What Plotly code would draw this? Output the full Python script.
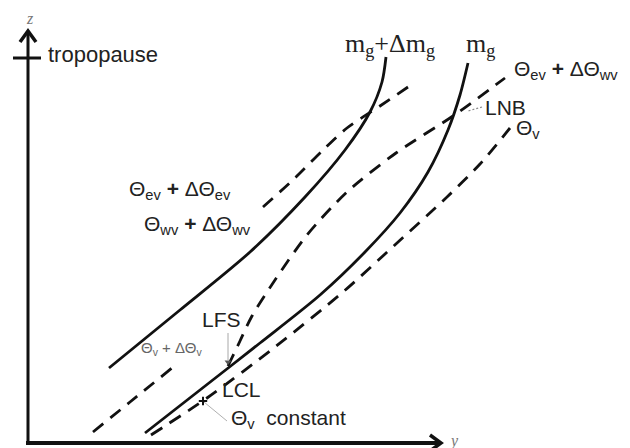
import plotly.graph_objects as go

# ---- schematic curves (pixel-space coordinates of the sketch, y downward) ----
# solid: m_g + Δm_g
mg_dm_x = [109, 180, 250, 305, 345, 370, 382, 386]
mg_dm_y = [368, 310, 252, 197, 150, 112, 82, 57]
# solid: m_g
mg_x = [145, 200, 260, 320, 365, 400, 428, 448, 460, 468]
mg_y = [433, 390, 343, 295, 252, 213, 172, 130, 95, 63]
# dashed: Θ_ev + ΔΘ_ev (upper left)
thev_x = [263, 295, 323, 347, 380, 408]
thev_y = [207, 178, 150, 128, 106, 87]
# dashed: Θ_ev + ΔΘ_wv (from LCL through LFS to LNB)
thwv_x = [228, 240, 252, 275, 307, 347, 396, 453, 505]
thwv_y = [366, 341, 316, 280, 235, 192, 153, 116, 78]
# dashed: Θ_v
thv_x = [151, 207, 275, 343, 397, 447, 480, 510]
thv_y = [435, 398, 347, 292, 243, 197, 164, 128]
# dashed: Θ_v + ΔΘ_v (lower left)
thvd_x = [93, 130, 172]
thvd_y = [432, 402, 368]

# coordinate axes and their arrow heads
zaxis_x = [28, 28]
zaxis_y = [445, 31]
zhead_x = [20, 28, 36]
zhead_y = [42, 31, 42]
yaxis_x = [26, 441]
yaxis_y = [443, 443]
yhead_x = [430, 441, 430]
yhead_y = [435, 443, 451]
trop_x = [13, 41]
trop_y = [58, 58]

# leader lines
lead_lfs_x = [228, 228]
lead_lfs_y = [333, 360]
lead_const_x = [227, 204]
lead_const_y = [421, 402]
lead_lnb_x = [482, 468]
lead_lnb_y = [107, 111]

BLACK = "#111111"
GREY = "#8a8a8a"

fig = go.Figure()

def curve(x, y, dash=None, width=2.8, color=BLACK, shape="spline"):
    fig.add_trace(go.Scatter(
        x=x, y=y, mode="lines",
        line=dict(color=color, width=width, shape=shape,
                  smoothing=0.8, dash=dash),
        hoverinfo="skip", showlegend=False))

curve(mg_dm_x, mg_dm_y)
curve(mg_x, mg_y)
curve(thev_x, thev_y, dash="13px,9px")
curve(thwv_x, thwv_y, dash="13px,9px")
curve(thv_x, thv_y, dash="13px,9px")
curve(thvd_x, thvd_y, dash="13px,9px")

curve(zaxis_x, zaxis_y, width=3, shape="linear")
curve(zhead_x, zhead_y, width=3.5, shape="linear")
curve(yaxis_x, yaxis_y, width=3.8, shape="linear")
curve(yhead_x, yhead_y, width=3.5, shape="linear")
curve(trop_x, trop_y, width=3, shape="linear")

curve(lead_lfs_x, lead_lfs_y, width=1, color="#a8a8a8", shape="linear")
curve(lead_const_x, lead_const_y, width=1, color="#b0b0b0", shape="linear")
curve(lead_lnb_x, lead_lnb_y, width=1.2, color=GREY, dash="2px,2px", shape="linear")

# arrow tip of LFS leader and small tick on Θ_v dashed line
fig.add_trace(go.Scatter(x=[228], y=[362], mode="markers",
                         marker=dict(symbol="triangle-down", size=6, color="#555555"),
                         hoverinfo="skip", showlegend=False))
fig.add_trace(go.Scatter(x=[203], y=[401], mode="markers",
                         marker=dict(symbol="cross-thin", size=6,
                                     line=dict(color=BLACK, width=2)),
                         hoverinfo="skip", showlegend=False))

annotations = []
SANS = "Liberation Sans, Arial, sans-serif"
SERIF = "Liberation Serif, Times New Roman, serif"

def label(x, y, text, size=20, family=SANS, color="#222222", anchor="left"):
    annotations.append(dict(x=x, y=y, xref="x", yref="y", text=text,
                            showarrow=False, xanchor=anchor, yanchor="middle",
                            font=dict(family=family, size=size, color=color)))

label(30, 18, "<i>z</i>", size=16, family=SERIF, color="#777777", anchor="center")
label(447, 441, "<i>y</i>", size=16, family=SERIF, color="#777777")
label(46, 54, "tropopause", size=22)
label(390, 45, "m<sub>g</sub>+Δm<sub>g</sub>", size=26, family=SERIF, anchor="center")
label(480, 45, "m<sub>g</sub>", size=26, family=SERIF, anchor="center")
label(512, 70, "Θ<sub>ev</sub> <b>+</b> ΔΘ<sub>wv</sub>", size=21)
label(483, 107, "LNB", size=21)
label(514, 129, "Θ<sub>v</sub>", size=21)
label(127, 190, "Θ<sub>ev</sub> <b>+</b> ΔΘ<sub>ev</sub>", size=21)
label(142, 225, "Θ<sub>wv</sub> <b>+</b> ΔΘ<sub>wv</sub>", size=21)
label(200, 319, "LFS", size=21)
label(139, 348, "Θ<sub>v</sub> + ΔΘ<sub>v</sub>", size=15, color="#666666")
label(220, 389, "LCL", size=21)
label(229, 419, "Θ<sub>v</sub>  constant", size=21)

fig.update_layout(
    width=630, height=448,
    margin=dict(l=0, r=0, t=0, b=0),
    paper_bgcolor="white", plot_bgcolor="white",
    xaxis=dict(range=[0, 630], visible=False, fixedrange=True),
    yaxis=dict(range=[448, 0], visible=False, fixedrange=True),
    annotations=annotations,
)

fig.write_html("out.html", config={"displayModeBar": False})
